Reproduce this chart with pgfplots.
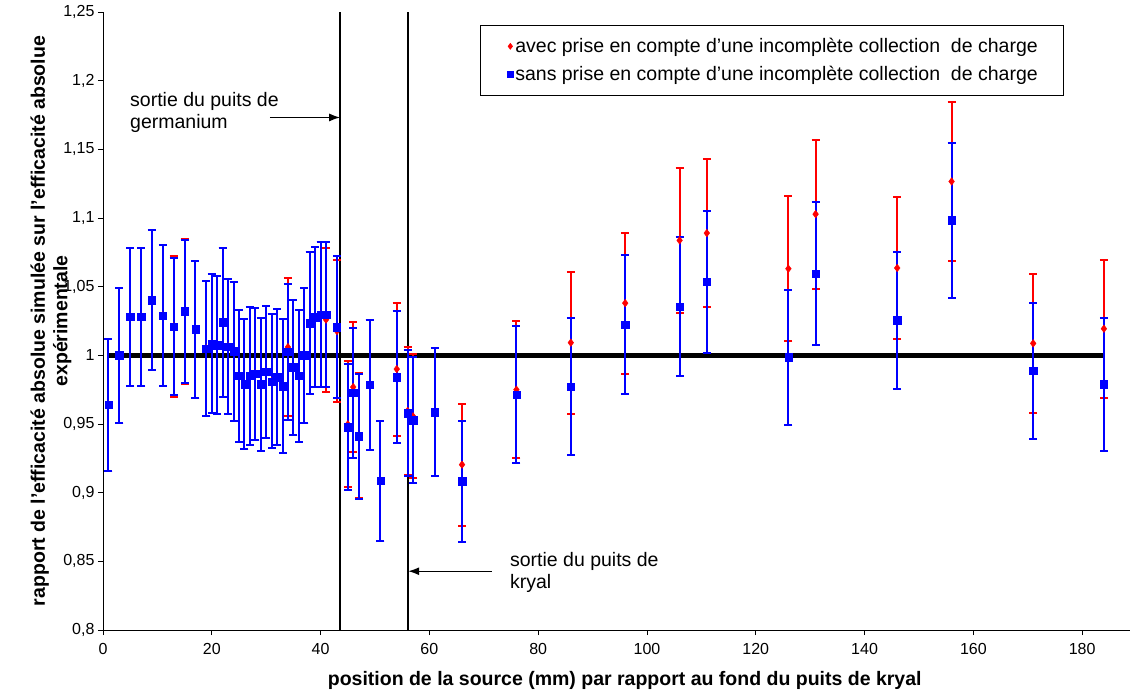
\documentclass[border=0pt]{standalone}
\usepackage{fontspec}
\setmainfont{Liberation Sans}
\usepackage{pgfplots}
\pgfplotsset{compat=1.18}
\usepackage{pgfplotstable}
\usetikzlibrary{arrows.meta}

\pgfplotstableread{
x y e
1 0.964 0.048
3 1.000 0.049
5 1.028 0.050
7 1.028 0.050
9 1.040 0.051
11 1.029 0.0515
13 1.021 0.051
15 1.032 0.053
17 1.019 0.050
19 1.005 0.049
20 1.0085 0.0505
21 1.0075 0.050
22 1.024 0.054
23 1.0065 0.049
24 1.003 0.0506
25 0.985 0.048
26 0.979 0.0473
27 0.985 0.050
28 0.9867 0.048
29 0.979 0.0484
30 0.988 0.048
31 0.981 0.0488
32 0.984 0.0495
33 0.9774 0.0487
34 1.006 0.050
35 0.9913 0.049
36 0.985 0.0483
37 1.000 0.049
38 1.0235 0.052
39 1.0277 0.051
40 1.0296 0.053
41 1.026 0.0525
43 1.0177 0.0515
45 0.9498 0.046
46 0.9769 0.0473
47 0.9415 0.0455
49 0.9784 0.0473
51 0.9085 0.0434
54 0.990 0.0484
56 0.9595 0.0466
57 0.9556 0.0452
61 0.9585 0.0465
66 0.9204 0.0445
76 0.975 0.050
86 1.0092 0.0518
96 1.038 0.0514
106 1.0837 0.0528
111 1.089 0.054
126 1.0631 0.0527
131 1.1028 0.0543
146 1.0636 0.052
156 1.1266 0.0579
171 1.0087 0.0506
184 1.0194 0.0503
}\reddata

\pgfplotstableread{
x y e
1 0.964 0.048
3 1.000 0.049
5 1.028 0.050
7 1.028 0.050
9 1.040 0.051
11 1.029 0.0515
13 1.021 0.050
15 1.032 0.052
17 1.019 0.050
19 1.005 0.049
20 1.0085 0.0505
21 1.0075 0.050
22 1.024 0.054
23 1.0065 0.049
24 1.003 0.0506
25 0.985 0.048
26 0.979 0.0473
27 0.985 0.050
28 0.9867 0.048
29 0.979 0.0484
30 0.988 0.048
31 0.981 0.0488
32 0.984 0.0495
33 0.9774 0.0487
34 1.0027 0.0496
35 0.9913 0.049
36 0.985 0.0483
37 1.000 0.049
38 1.0235 0.052
39 1.0277 0.051
40 1.0296 0.053
41 1.0296 0.053
43 1.0204 0.0516
45 0.9476 0.046
46 0.9726 0.047
47 0.941 0.0453
49 0.9784 0.0473
51 0.9085 0.0434
54 0.9842 0.048
56 0.958 0.046
57 0.9527 0.046
61 0.9585 0.0465
66 0.9083 0.044
76 0.9714 0.050
86 0.9772 0.050
96 1.0223 0.0507
106 1.0354 0.0505
111 1.0534 0.052
126 0.9985 0.0494
131 1.0594 0.0522
146 1.0255 0.050
156 1.0983 0.0564
171 0.9886 0.0494
184 0.9789 0.0483
}\bluedata

\begin{document}
\begin{tikzpicture}
\useasboundingbox (-103pt,-65pt) rectangle (1028pt,630pt);
\begin{axis}[
  scale only axis,
  width=1027pt, height=618pt,
  xmin=0, xmax=188.8,
  ymin=0.8, ymax=1.25,
  axis x line*=bottom,
  axis y line*=left,
  axis line style={line width=0.8pt, black},
  tick align=outside,
  major tick length=5pt,
  tick style={line width=0.8pt, black},
  xtick={0,20,...,180},
  ytick={0.8,0.85,0.9,0.95,1,1.05,1.1,1.15,1.2,1.25},
  yticklabels={{0,8},{0,85},{0,9},{0,95},{1},{1,05},{1,1},{1,15},{1,2},{1,25}},
  /pgf/number format/assume math mode=true,
  ticklabel style={font=\fontsize{16}{19}\selectfont},
  xticklabel style={yshift=-5pt},
  xlabel={position de la source (mm) par rapport au fond du puits de kryal},
  ylabel={rapport de l'efficacité absolue simulée sur l'efficacité absolue\\expérimentale},
  xlabel style={font=\fontsize{19.5}{23}\selectfont\bfseries, at={(axis description cs:0.508,-0.0809)}, anchor=center},
  ylabel style={font=\fontsize{19.5}{22.5}\selectfont\bfseries, align=center, at={(axis description cs:-0.0506,0.5)}, anchor=center},
  legend style={at={(0.367,0.979)}, anchor=north west, draw=black, line width=0.8pt,
    font=\fontsize{19.5}{23}\selectfont, inner xsep=6pt, inner ysep=11pt, row sep=8pt},
  legend cell align=left,
  legend image code/.code={\path[draw=none,fill=none] (0pt,0pt) -- (27pt,0pt); \draw[#1, mark size=2.8pt] plot coordinates {(24pt,0pt)};},
]
\addplot[black, line width=4.5pt, forget plot] coordinates {(1,1) (184,1)};
\addplot[black, line width=1.4pt, forget plot] coordinates {(43.6,0.8) (43.6,1.25)};
\addplot[black, line width=1.4pt, forget plot] coordinates {(56.1,0.8) (56.1,1.25)};

\addplot[only marks, mark=diamond*, mark size=3.8pt, color=red,
  error bars/y dir=both, error bars/y explicit,
  /pgfplots/error bars/error bar style={draw=red, line width=2pt, solid},
  /pgfplots/error bars/error mark options={rotate=90, draw=red, line width=2pt, mark size=4pt}]
  table[x=x, y=y, y error=e] {\reddata};
\addlegendentry{avec prise en compte d'une incomplète collection~ de charge\rule{18pt}{0pt}}

\addplot[only marks, mark=square*, mark size=3.7pt, color=blue,
  error bars/y dir=both, error bars/y explicit,
  /pgfplots/error bars/error bar style={draw=blue, line width=2pt, solid},
  /pgfplots/error bars/error mark options={rotate=90, draw=blue, line width=2pt, mark size=4pt}]
  table[x=x, y=y, y error=e] {\bluedata};
\addlegendentry{sans prise en compte d'une incomplète collection~ de charge\rule{18pt}{0pt}}

\node[anchor=west, align=left, font=\fontsize{19.5}{22}\selectfont, inner sep=0pt] at (axis cs:4.96,1.1768) {sortie du puits de\\germanium};
\draw[line width=1.4pt, -{Latex[length=11pt,width=8pt]}] (axis cs:30.7,1.1732) -- (axis cs:43.6,1.1732);
\node[anchor=west, align=left, font=\fontsize{19.5}{22}\selectfont, inner sep=0pt] at (axis cs:74.8,0.8417) {sortie du puits de\\kryal};
\draw[line width=1.4pt, -{Latex[length=11pt,width=8pt]}] (axis cs:71.5,0.8428) -- (axis cs:56.1,0.8428);
\end{axis}
\end{tikzpicture}
\end{document}
